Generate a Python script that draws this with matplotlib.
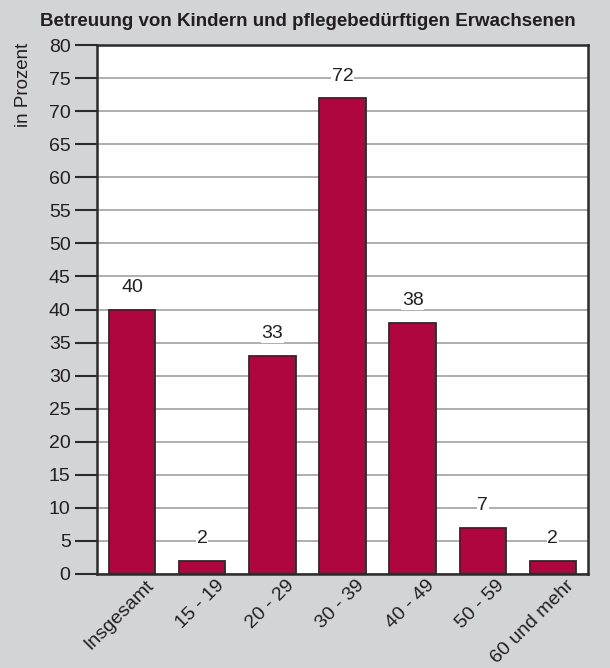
import matplotlib.pyplot as plt
import matplotlib.transforms as mtransforms

plt.rcParams['font.family'] = ['Liberation Sans', 'DejaVu Sans']

# data
categories = ['Insgesamt', '15 - 19', '20 - 29', '30 - 39', '40 - 49', '50 - 59', '60 und mehr']
values = [40, 2, 33, 72, 38, 7, 2]
yticks = list(range(0, 81, 5))

bg = '#d3d4d6'
bar_color = '#b0063f'
ink = '#231f20'

fig = plt.figure(figsize=(6.10, 6.68), dpi=100, facecolor=bg)
ax = fig.add_axes([97 / 610, 1 - 574 / 668, 491 / 610, 529 / 668])
ax.set_facecolor('white')

x = range(len(categories))
ax.bar(x, values, width=0.66, color=bar_color, edgecolor='#2b2b2b', linewidth=1.3, zorder=2)

# value labels with white box over the grid
for i, v in zip(x, values):
    ax.text(i, v + 3.3, str(v), ha='center', va='center', fontsize=14, color=ink,
            bbox=dict(facecolor='white', edgecolor='none', pad=0.6), zorder=4)

ax.set_xlim(-0.5, len(categories) - 0.5)
ax.set_ylim(0, 80)
ax.set_yticks(yticks)
ax.yaxis.grid(True, color='#a8a8a8', linewidth=1.3)
ax.set_axisbelow(True)

ax.tick_params(axis='y', length=16, width=1.5, color='#2b2b2b', labelsize=14, labelcolor=ink, pad=3)
ax.tick_params(axis='x', length=0, labelsize=14, labelcolor=ink, pad=2)
ax.set_xticks(list(x))
ax.set_xticklabels(categories, rotation=45, ha='right', rotation_mode='anchor')
offset = mtransforms.ScaledTranslation(13 / 100, 0, fig.dpi_scale_trans)
for lbl in ax.get_xticklabels():
    lbl.set_transform(lbl.get_transform() + offset)

for s in ax.spines.values():
    s.set_color('#2b2b2b')
    s.set_linewidth(1.8)

fig.text(308 / 610, 1 - 22 / 668, 'Betreuung von Kindern und pflegebedürftigen Erwachsenen',
         ha='center', va='center', fontsize=13.5, fontweight='bold', color=ink)
fig.text(23 / 610, 1 - 85 / 668, 'in Prozent', rotation=90, ha='center', va='center',
         fontsize=13.5, color=ink)

fig.savefig('out.png', dpi=100, facecolor=bg)
